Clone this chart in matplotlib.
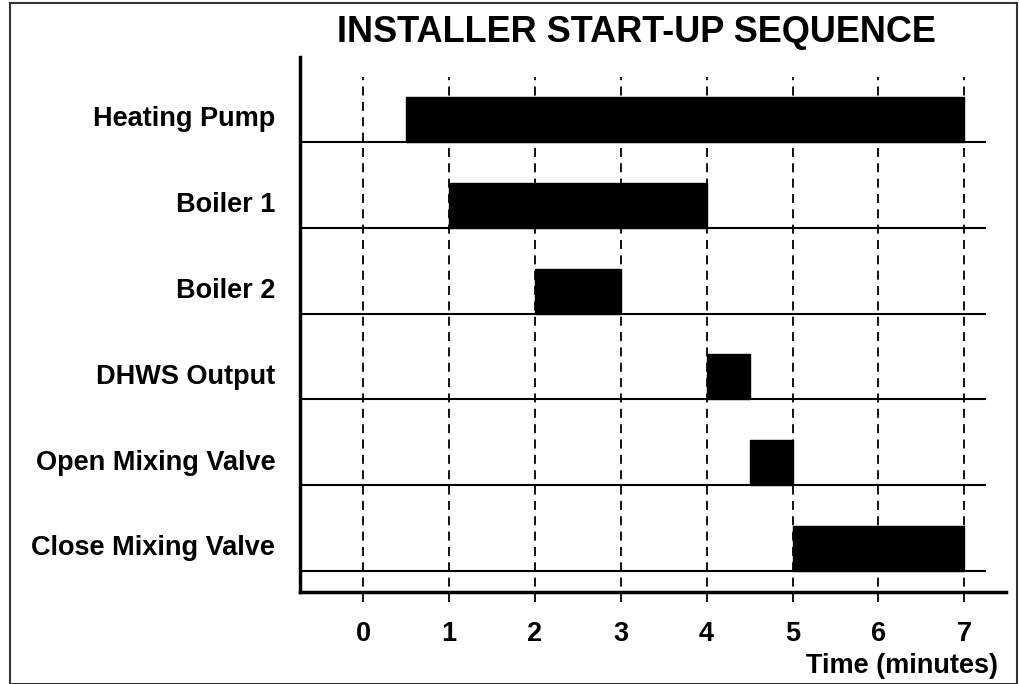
import matplotlib.pyplot as plt
from matplotlib.patches import Rectangle

# rows from top to bottom, start / end in minutes
tasks = ["Heating Pump", "Boiler 1", "Boiler 2", "DHWS Output",
         "Open Mixing Valve", "Close Mixing Valve"]
starts = [0.5, 1, 2, 4, 4.5, 5]
ends = [7, 4, 3, 4.5, 5, 7]
ticks = [0, 1, 2, 3, 4, 5, 6, 7]

plt.rcParams['font.family'] = ['Liberation Sans', 'DejaVu Sans']
plt.rcParams['font.weight'] = 'bold'

fig = plt.figure(figsize=(10.19, 6.84), dpi=100)
W, H = 1019, 684

# figure frame
fig.add_artist(Rectangle((10 / W, 0), 1007 / W, (H - 3) / H, transform=fig.transFigure,
                         fill=False, edgecolor='#333333', linewidth=1.5))

# axes area in pixels: x 300..1006, y 57..592
ax = fig.add_axes([300 / W, 1 - 592 / H, 706 / W, 535 / H])
ax.set_xlim(-0.733, 7.485)
ax.set_ylim(-0.245, 5.99)

n = len(tasks)
bar_h = 0.525
for i, (name, s, e) in enumerate(zip(tasks, starts, ends)):
    base = n - 1 - i
    ax.plot([-0.733, 7.24], [base, base], color='black', linewidth=1.5, zorder=3)
    ax.add_patch(Rectangle((s, base), e - s, bar_h, facecolor='black',
                           edgecolor='black', zorder=2))
    ax.text(-1.02, base + bar_h / 2, name, ha='right', va='center',
            fontsize=19.5, fontweight='bold', clip_on=False)

for t in ticks:
    ax.plot([t, t], [-0.36, 5.76], color='black', linestyle=(0, (5, 3.5)),
            linewidth=1.3, zorder=1, clip_on=False)
    ax.text(t, -0.73, str(t), ha='center', va='center', fontsize=19.5, fontweight='bold')

fig.text(998 / W, 1 - 666 / H, "Time (minutes)", ha='right', va='center',
         fontsize=19.5, fontweight='bold')
fig.text(636 / W, 1 - 32 / H, "INSTALLER START-UP SEQUENCE", ha='center', va='center',
         fontsize=26, fontweight='bold')

ax.set_xticks([])
ax.set_yticks([])
ax.spines['top'].set_visible(False)
ax.spines['right'].set_visible(False)
ax.spines['left'].set_linewidth(2.5)
ax.spines['bottom'].set_linewidth(2.5)
ax.patch.set_visible(False)

fig.savefig('out.png', dpi=100)
